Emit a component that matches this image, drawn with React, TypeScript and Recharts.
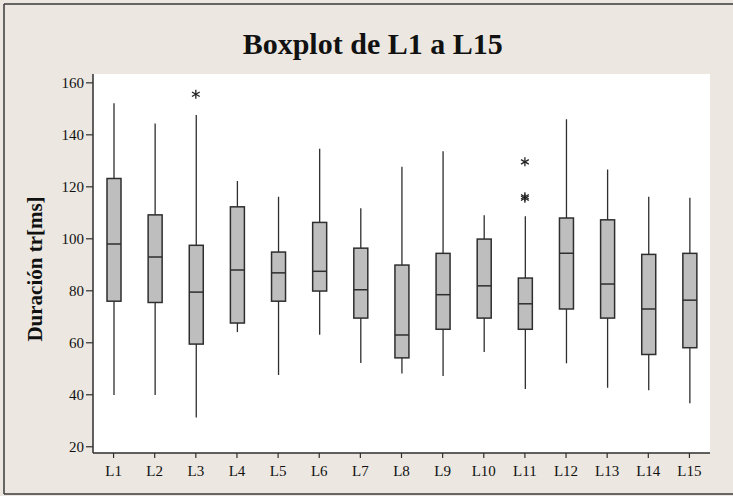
import React from 'react';
import { ComposedChart, Bar, Scatter, XAxis, YAxis, CartesianGrid } from 'recharts';

const categories = ['L1', 'L2', 'L3', 'L4', 'L5', 'L6', 'L7', 'L8', 'L9', 'L10', 'L11', 'L12', 'L13', 'L14', 'L15'];
const whiskerLow = [39.9, 39.9, 31.3, 64.1, 47.6, 63.1, 52.2, 48.2, 47.2, 56.5, 42.2, 52.1, 42.7, 41.7, 36.7];
const quartile1 = [76, 75.5, 59.5, 67.6, 76, 79.9, 69.5, 54.2, 65.2, 69.5, 65.2, 73, 69.5, 55.5, 58.1];
const medians = [98, 93, 79.5, 88, 86.9, 87.5, 80.4, 63, 78.5, 81.9, 75, 94.4, 82.6, 73, 76.4];
const quartile3 = [123.2, 109.2, 97.5, 112.3, 94.9, 106.3, 96.4, 89.9, 94.4, 99.9, 84.9, 108, 107.3, 94, 94.4];
const whiskerHigh = [152.1, 144.4, 147.6, 122.2, 116.2, 134.6, 111.8, 127.7, 133.7, 109.1, 108.7, 146, 126.7, 116.2, 115.8];
const outliers: number[][] = [[], [], [155.6], [], [], [], [], [], [], [], [129.6, 116.2, 115.6], [], [], [], []];
const yTicks = [20, 40, 60, 80, 100, 120, 140, 160];
const yDomain = [17.6, 163.4];

const table = categories.map((name, i) => ({
  name,
  lo: whiskerLow[i],
  q1: quartile1[i],
  med: medians[i],
  q3: quartile3[i],
  hi: whiskerHigh[i],
  o0: outliers[i][0] ?? null,
  o1: outliers[i][1] ?? null,
  o2: outliers[i][2] ?? null,
}));

const FONT = '"Liberation Serif", "Times New Roman", serif';
const DARK = '#2e2e2e';

const BoxShape = (props: any) => {
  const { x, y, width, height, payload } = props;
  if (payload == null || height == null) return <g />;
  const { lo, hi, q1, med, q3 } = payload;
  const k = height / (hi - lo);
  const py = (v: number) => y + (hi - v) * k;
  const cx = x + width / 2;
  return (
    <g>
      <line x1={cx} x2={cx} y1={py(hi)} y2={py(q3)} stroke={DARK} strokeWidth={1.3} />
      <line x1={cx} x2={cx} y1={py(q1)} y2={py(lo)} stroke={DARK} strokeWidth={1.3} />
      <rect x={x} y={py(q3)} width={width} height={py(q1) - py(q3)} fill="#bebebe" stroke={DARK} strokeWidth={1.5} />
      <line x1={x} x2={x + width} y1={py(med)} y2={py(med)} stroke={DARK} strokeWidth={1.5} />
    </g>
  );
};

const StarShape = (props: any) => {
  const { cx, cy, payload, dataKey } = props;
  if (cx == null || cy == null || isNaN(cx) || isNaN(cy)) return <g />;
  if (payload && dataKey && payload[dataKey] == null) return <g />;
  const r = 4.5;
  const angles = [90, 30, 150];
  return (
    <g>
      {angles.map((a) => {
        const rad = (a * Math.PI) / 180;
        const dx = Math.cos(rad) * r;
        const dy = Math.sin(rad) * r;
        return <line key={a} x1={cx - dx} y1={cy - dy} x2={cx + dx} y2={cy + dy} stroke="#222" strokeWidth={1.3} />;
      })}
    </g>
  );
};

export default function App() {
  return (
    <div style={{ position: 'absolute', left: 0, top: 0, width: 733, height: 496, background: '#ECE8E1', overflow: 'hidden' }}>
      <div style={{ position: 'absolute', left: 0, top: 0 }}>
        <ComposedChart width={733} height={496} data={table} margin={{ top: 74, right: 23, bottom: 13, left: 33 }}>
          <CartesianGrid fill="#ffffff" stroke="none" />
          <XAxis
            dataKey="name"
            type="category"
            interval={0}
            height={30}
            tickSize={5}
            tickMargin={7}
            tick={{ fontSize: 15, fill: '#111', fontFamily: FONT }}
            tickLine={{ stroke: DARK, strokeWidth: 1.2 }}
            axisLine={{ stroke: DARK, strokeWidth: 1.5 }}
          />
          <XAxis
            xAxisId="top"
            orientation="top"
            dataKey="name"
            type="category"
            height={0}
            tick={false}
            tickLine={false}
            axisLine={{ stroke: DARK, strokeWidth: 1.5 }}
          />
          <YAxis
            type="number"
            domain={yDomain}
            ticks={yTicks}
            allowDataOverflow
            width={60}
            tickSize={7}
            tickMargin={2}
            tick={{ fontSize: 15, fill: '#111', fontFamily: FONT }}
            tickLine={{ stroke: DARK, strokeWidth: 1.2 }}
            axisLine={{ stroke: DARK, strokeWidth: 1.5 }}
          />
          <YAxis
            yAxisId="right"
            orientation="right"
            type="number"
            domain={yDomain}
            allowDataOverflow
            width={0}
            tick={false}
            tickLine={false}
            axisLine={{ stroke: DARK, strokeWidth: 1.5 }}
          />
          <Bar dataKey={(d: any) => [d.lo, d.hi]} barSize={14} shape={<BoxShape />} isAnimationActive={false} />
          <Scatter dataKey="o0" shape={<StarShape dataKey="o0" />} isAnimationActive={false} />
          <Scatter dataKey="o1" shape={<StarShape dataKey="o1" />} isAnimationActive={false} />
          <Scatter dataKey="o2" shape={<StarShape dataKey="o2" />} isAnimationActive={false} />
        </ComposedChart>
      </div>
      <svg width={733} height={496} style={{ position: 'absolute', left: 0, top: 0, pointerEvents: 'none' }}>
        <text x={372.7} y={54} textAnchor="middle" fontFamily={FONT} fontWeight="bold" fontSize={30} fill="#111">
          Boxplot de L1 a L15
        </text>
        <text transform="translate(42,269) rotate(-90)" textAnchor="middle" fontFamily={FONT} fontWeight="bold" fontSize={21} fill="#111">
          Duración tr[ms]
        </text>
        <line x1={4} y1={4} x2={4} y2={494} stroke="#3a3a3a" strokeWidth={1.5} />
        <line x1={4} y1={4} x2={733} y2={4} stroke="#3a3a3a" strokeWidth={1.5} />
        <line x1={4} y1={494} x2={733} y2={494} stroke="#3a3a3a" strokeWidth={1.5} />
      </svg>
    </div>
  );
}
